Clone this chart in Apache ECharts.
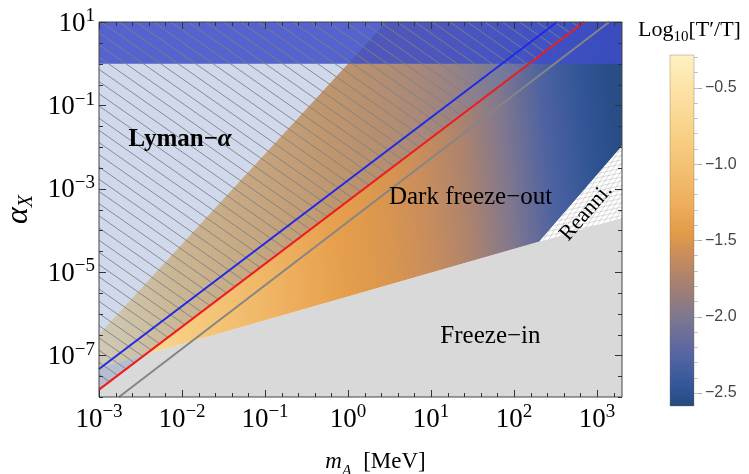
<!DOCTYPE html>
<html><head><meta charset="utf-8">
<script src="https://cdn.jsdelivr.net/npm/echarts@6/dist/echarts.min.js"></script>
<style>html,body{margin:0;padding:0;background:#fff}#c{width:749px;height:474px}</style>
</head><body><div id="c"></div>
<script>
// ---- axis ranges and ticks ----
const massRange = [1e-3, 2000];          // m_A [MeV]
const alphaRange = [1e-8, 10];           // alpha_X
const xTickExponents = [-3, -2, -1, 0, 1, 2, 3];
const yTickExponents = [1, -1, -3, -5, -7];
const xMinorStep = 0.2;                  // decades between minor ticks
const yMinorStep = 0.5;
const colorbarRange = [-2.585, -0.284];
const colorbarTicks = [-0.5, -1.0, -1.5, -2.0, -2.5];

// ---- region boundaries, points as [m_A, alpha_X] ----
const redLine = [[1e-3, 1.5e-8], [700, 10]];
const blueLine = [[1e-3, 4.7e-8], [330, 10]];
const grayLine = [[1.74e-3, 1e-8], [1400, 10]];
const freezeInEdge = [[1e-3, 5.0e-8], [2000, 2.0e-4]];
const freezeOutEdge = [[1e-3, 3.2e-7], [2.9, 10]];
const reanniEdge = [[200, 5.25e-5], [2000, 1.05e-2]];
const perturbativeAlpha = 1;

// ---- Log10[T'/T] sampled along the freeze-in edge, by m_A ----
const tempMass = [1e-3, 3.16e-3, 1e-2, 3.16e-2, 0.1, 0.316, 1, 3.16, 10, 31.6, 100, 316, 1000, 2000];
const tempLogRatio = [-0.4, -0.6, -0.85, -1.0, -1.15, -1.3, -1.42, -1.5, -1.6, -1.75, -2.0, -2.3, -2.48, -2.55];
const tempContourTilt = 5;   // degrees, iso-temperature lines lean this way

// ---- colour scale ----
const scaleValues = [-2.585, -2.45, -2.25, -2.0, -1.8, -1.6, -1.45, -1.25, -1.0, -0.75, -0.5, -0.284];
const scaleColors = ['#254a80', '#33579a', '#5565a3', '#7f778f', '#a37f72', '#c98d5c', '#e39b48', '#eeaf5e', '#f4c274', '#f9d48c', '#fde3a6', '#fff1c4'];

// ---- region labels: [m_A, alpha_X, text key, rotation deg] ----
const regionLabels = [
  [9.5e-3, 1.5e-2, 'lyman', 0],
  [30, 6.3e-4, 'freezeout', 0],
  [52, 2.9e-7, 'freezein', 0],
  [740, 2.7e-4, 'reanni', 49]
];

const SERIF = '"Liberation Serif","Times New Roman",serif';
const SANS = '"Liberation Sans",Arial,sans-serif';
const L = Math.log10;
const lg = p => [L(p[0]), L(p[1])];

function hexRgb(h) { return [1, 3, 5].map(i => parseInt(h.substr(i, 2), 16)); }
function colorAt(t) {
  if (t <= scaleValues[0]) return scaleColors[0];
  for (let i = 1; i < scaleValues.length; i++) {
    if (t <= scaleValues[i]) {
      const f = (t - scaleValues[i - 1]) / (scaleValues[i] - scaleValues[i - 1]);
      const a = hexRgb(scaleColors[i - 1]), b = hexRgb(scaleColors[i]);
      return 'rgb(' + a.map((x, k) => Math.round(x + (b[k] - x) * f)).join(',') + ')';
    }
  }
  return scaleColors[scaleColors.length - 1];
}

// clip an infinite line (base + t*dir) against a convex pixel polygon
function clipLine(base, dir, poly) {
  let area = 0;
  for (let i = 0; i < poly.length; i++) {
    const a = poly[i], b = poly[(i + 1) % poly.length];
    area += a[0] * b[1] - b[0] * a[1];
  }
  const o = area > 0 ? 1 : -1;
  let t0 = -1e5, t1 = 1e5;
  for (let i = 0; i < poly.length; i++) {
    const a = poly[i], b = poly[(i + 1) % poly.length];
    const ex = b[0] - a[0], ey = b[1] - a[1];
    const c0 = o * (ex * (base[1] - a[1]) - ey * (base[0] - a[0]));
    const c1 = o * (ex * dir[1] - ey * dir[0]);
    if (Math.abs(c1) < 1e-12) { if (c0 < 0) return null; continue; }
    const t = -c0 / c1;
    if (c1 > 0) t0 = Math.max(t0, t); else t1 = Math.min(t1, t);
  }
  return t1 > t0 ? [t0, t1] : null;
}
function hatch(poly, angleDeg, spacing, style) {
  const r = angleDeg * Math.PI / 180;
  const dir = [Math.cos(r), Math.sin(r)];
  const n = [-dir[1], dir[0]];
  let mn = Infinity, mx = -Infinity;
  poly.forEach(p => { const d = p[0] * n[0] + p[1] * n[1]; mn = Math.min(mn, d); mx = Math.max(mx, d); });
  const out = [];
  for (let d = Math.ceil(mn / spacing) * spacing; d <= mx; d += spacing) {
    const base = [n[0] * d, n[1] * d];
    const seg = clipLine(base, dir, poly);
    if (!seg) continue;
    out.push({ type: 'line', shape: {
      x1: base[0] + dir[0] * seg[0], y1: base[1] + dir[1] * seg[0],
      x2: base[0] + dir[0] * seg[1], y2: base[1] + dir[1] * seg[1] }, style: style });
  }
  return out;
}

// polygon vertex lists built from the boundaries above
const cornerTL = [massRange[0], alphaRange[1]];
const cornerTR = [massRange[1], alphaRange[1]];
const cornerBL = [massRange[0], alphaRange[0]];
const cornerBR = [massRange[1], alphaRange[0]];
const freezeOutPoly = [freezeOutEdge[0], freezeOutEdge[1], cornerTR, reanniEdge[1], reanniEdge[0], freezeInEdge[0]];
const freezeInPoly = [cornerBL, cornerBR, freezeInEdge[1], freezeInEdge[0]];
const reanniPoly = [reanniEdge[0], reanniEdge[1], freezeInEdge[1]];
const lymanPoly = [cornerTL, redLine[1], redLine[0]];
const bandPoly = [[massRange[0], perturbativeAlpha], [massRange[1], perturbativeAlpha], cornerTR, cornerTL];

// alpha on the freeze-in edge (straight in log-log)
function freezeInAlpha(m) {
  const a = lg(freezeInEdge[0]), b = lg(freezeInEdge[1]);
  return Math.pow(10, a[1] + (L(m) - a[0]) * (b[1] - a[1]) / (b[0] - a[0]));
}

function polySeries(pts, styleFn, z) {
  return {
    type: 'custom', xAxisIndex: 0, yAxisIndex: 0, z: z || 2, silent: true,
    data: [lg(pts[0])],
    renderItem: function (params, api) {
      const px = pts.map(p => api.coord(lg(p)));
      return styleFn(px, api);
    }
  };
}
function lineSeries(pts, color, z) {
  return polySeries(pts, px => ({ type: 'polyline', shape: { points: px },
    style: { stroke: color, lineWidth: 2, fill: null } }), z);
}

function range(a, b, step) { const out = []; for (let v = a; v <= b + 1e-9; v += step) out.push(+v.toFixed(4)); return out; }
const xr = { min: L(massRange[0]), max: L(massRange[1]) };
const yr = { min: L(alphaRange[0]), max: L(alphaRange[1]) };
const xMinor = range(xr.min, xr.max, xMinorStep);
const yMinor = range(yr.min, yr.max, yMinorStep);
const cbMinor = range(-2.5, -0.3, 0.1);

const series = [
  // dark freeze-out region coloured by Log10[T'/T]
  polySeries(freezeOutPoly, function (px, api) {
    const r = tempContourTilt * Math.PI / 180;
    const d = [Math.cos(r), -Math.sin(r)];
    const proj = tempMass.map(m => {
      const p = api.coord([L(m), L(freezeInAlpha(m))]);
      return p[0] * d[0] + p[1] * d[1];
    });
    const p0 = proj[0], p1 = proj[proj.length - 1];
    const stops = proj.map((s, i) => ({ offset: (s - p0) / (p1 - p0), color: colorAt(tempLogRatio[i]) }));
    return { type: 'polygon', shape: { points: px },
      style: { fill: new echarts.graphic.LinearGradient(d[0] * p0, d[1] * p0, d[0] * p1, d[1] * p1, stops, true), stroke: null } };
  }, 1),
  // freeze-in
  polySeries(freezeInPoly, px => ({ type: 'polygon', shape: { points: px }, style: { fill: '#d9d9d9' } }), 2),
  // reannihilation
  polySeries(reanniPoly, px => ({ type: 'group', children: [
    { type: 'polygon', shape: { points: px }, style: { fill: '#ffffff' } }
  ].concat(hatch(px, -12, 4.2, { stroke: 'rgba(150,150,150,0.55)', lineWidth: 0.6 }))
   .concat(hatch(px, -58, 4.2, { stroke: 'rgba(150,150,150,0.55)', lineWidth: 0.6 })) }), 3),
  // Lyman-alpha tint
  polySeries(lymanPoly, px => ({ type: 'polygon', shape: { points: px }, style: { fill: 'rgba(100,130,190,0.3)' } }), 4),
  // alpha_X > 1 band
  polySeries(bandPoly, px => ({ type: 'polygon', shape: { points: px }, style: { fill: 'rgba(62,78,200,0.85)' } }), 5),
  // Lyman-alpha hatching
  polySeries(lymanPoly, px => ({ type: 'group', children:
    hatch(px, 35, 10, { stroke: '#808080', lineWidth: 0.9 }) }), 6),
  lineSeries(grayLine, '#858585', 7),
  lineSeries(redLine, '#ee1c1c', 8),
  lineSeries(blueLine, '#1f2ae6', 9),
  // region labels
  {
    type: 'custom', xAxisIndex: 0, yAxisIndex: 0, z: 10, silent: true,
    data: regionLabels.map(r => [L(r[0]), L(r[1]), r[3]]),
    renderItem: function (params, api) {
      const p = api.coord([api.value(0), api.value(1)]);
      const key = regionLabels[params.dataIndex][2];
      const texts = {
        lyman: '{b|Lyman\u2212}{bi|\u03b1}',
        freezeout: '{n|Dark freeze\u2212out}',
        freezein: '{n|Freeze\u2212in}',
        reanni: '{r|Reanni.}'
      };
      return { type: 'text', x: p[0], y: p[1], rotation: api.value(2) * Math.PI / 180,
        style: { text: texts[key], align: 'center', verticalAlign: 'middle',
          rich: {
            b: { fontFamily: SERIF, fontSize: 25, fontWeight: 'bold', fill: '#000' },
            bi: { fontFamily: SERIF, fontSize: 25, fontWeight: 'bold', fontStyle: 'italic', fill: '#000' },
            n: { fontFamily: SERIF, fontSize: 25, fill: '#000' },
            r: { fontFamily: SERIF, fontSize: 22, fill: '#000' }
          } } };
    }
  },
  // frame ticks on all four sides, pointing inward
  {
    type: 'custom', xAxisIndex: 0, yAxisIndex: 0, z: 40, silent: true,
    data: [[xr.min, yr.min]],
    renderItem: function (params, api) {
      const bl = api.coord([xr.min, yr.min]), tr = api.coord([xr.max, yr.max]);
      const st = { stroke: '#333', lineWidth: 1 };
      const out = [];
      const addX = (v, len) => {
        const x = Math.round(api.coord([v, yr.min])[0]) + 0.5;
        out.push({ type: 'line', shape: { x1: x, y1: bl[1], x2: x, y2: bl[1] - len }, style: st });
        out.push({ type: 'line', shape: { x1: x, y1: tr[1], x2: x, y2: tr[1] + len }, style: st });
      };
      const addY = (v, len) => {
        const y = Math.round(api.coord([xr.min, v])[1]) + 0.5;
        out.push({ type: 'line', shape: { x1: bl[0], y1: y, x2: bl[0] + len, y2: y }, style: st });
        out.push({ type: 'line', shape: { x1: tr[0], y1: y, x2: tr[0] - len, y2: y }, style: st });
      };
      xMinor.forEach(v => { if (xTickExponents.indexOf(Math.round(v)) < 0 || Math.abs(v - Math.round(v)) > 1e-6) addX(v, 4); });
      xTickExponents.forEach(v => addX(v, 7));
      yMinor.forEach(v => { if (yTickExponents.indexOf(Math.round(v)) < 0 || Math.abs(v - Math.round(v)) > 1e-6) addY(v, 4); });
      yTickExponents.forEach(v => addY(v, 7));
      return { type: 'group', children: out };
    }
  },
  // colour bar
  {
    type: 'custom', xAxisIndex: 1, yAxisIndex: 1, z: 2, silent: true,
    data: [[0, colorbarRange[0]]],
    renderItem: function (params, api) {
      const tl = api.coord([0, colorbarRange[1]]);
      const br = api.coord([1, colorbarRange[0]]);
      const stops = scaleValues.map((v, i) => ({ offset: (api.coord([0, v])[1] - tl[1]) / (br[1] - tl[1]), color: scaleColors[i] }));
      return { type: 'rect', shape: { x: tl[0], y: tl[1], width: br[0] - tl[0], height: br[1] - tl[1] },
        style: { fill: new echarts.graphic.LinearGradient(0, tl[1], 0, br[1], stops, true),
          stroke: 'rgba(120,100,70,0.35)', lineWidth: 1 } };
    }
  }
];

function expText(e) { return e < 0 ? '\u2212' + (-e) : String(e); }
const powRich = {
  b: { fontFamily: SERIF, fontSize: 27, color: '#000', lineHeight: 30, verticalAlign: 'bottom' },
  s: { fontFamily: SERIF, fontSize: 19, color: '#000', lineHeight: 12, verticalAlign: 'top' }
};
const powFmt = v => '{b|10}{s|' + expText(Math.round(v)) + '}';

const option = {
  backgroundColor: '#fff',
  animation: false,
  title: {
    left: 633, top: 14,
    text: '{a|Log}{sub|10}{a|[T\u2032/T]}',
    textStyle: { fontWeight: 'normal', rich: {
      a: { fontFamily: SERIF, fontSize: 22, fontWeight: 'normal', color: '#000', lineHeight: 26, verticalAlign: 'top' },
      sub: { fontFamily: SERIF, fontSize: 15, fontWeight: 'normal', color: '#000', lineHeight: 18, verticalAlign: 'bottom' } } }
  },
  grid: [
    { left: 99, top: 22, width: 523, height: 375, containLabel: false, outerBoundsMode: 'none',
      show: true, borderColor: '#444', borderWidth: 1, backgroundColor: 'transparent', z: 20 },
    { left: 670, top: 55, width: 24, height: 351, containLabel: false, outerBoundsMode: 'none' }
  ],
  xAxis: [
    Object.assign({
      gridIndex: 0, type: 'value', position: 'bottom',
      axisLine: { show: false, onZero: false }, splitLine: { show: false }, axisTick: { show: false },
      axisLabel: { show: true, customValues: xTickExponents, formatter: powFmt, rich: powRich, margin: 6 },
      name: '{i|m}{sub|A}{n|\u2002[MeV]}', nameLocation: 'middle', nameGap: 53,
      nameTextStyle: { padding: [0, 0, 0, 30], rich: {
        i: { fontFamily: SERIF, fontSize: 23, fontStyle: 'italic', color: '#000', lineHeight: 30, verticalAlign: 'top' },
        sub: { fontFamily: SERIF, fontSize: 16, fontStyle: 'italic', color: '#000', lineHeight: 24, verticalAlign: 'bottom' },
        n: { fontFamily: SERIF, fontSize: 23, color: '#000', lineHeight: 30, verticalAlign: 'top' } } }
    }, xr),
    { gridIndex: 1, type: 'value', min: 0, max: 1, show: false }
  ],
  yAxis: [
    Object.assign({
      gridIndex: 0, type: 'value', position: 'left',
      axisLine: { show: false, onZero: false }, splitLine: { show: false }, axisTick: { show: false },
      axisLabel: { show: true, customValues: yTickExponents, formatter: powFmt, rich: powRich, margin: 4 },
      name: '{i|\u03b1}{sub|X}', nameLocation: 'middle', nameGap: 60, nameRotate: 90,
      nameTextStyle: { rich: {
        i: { fontFamily: SERIF, fontSize: 32, fontStyle: 'italic', color: '#000', lineHeight: 34, verticalAlign: 'top' },
        sub: { fontFamily: SERIF, fontSize: 20, fontStyle: 'italic', color: '#000', lineHeight: 26, verticalAlign: 'bottom' } } }
    }, yr),
    { gridIndex: 1, type: 'value', position: 'right', min: colorbarRange[0], max: colorbarRange[1],
      axisLine: { show: false, onZero: false }, splitLine: { show: false },
      axisTick: { show: true, length: 8, customValues: colorbarTicks, lineStyle: { color: '#aaa' } },
      axisLabel: { show: true, customValues: colorbarTicks, margin: 11, fontFamily: SANS, fontSize: 16, color: '#444',
        formatter: v => (v < 0 ? '\u2212' : '') + Math.abs(v).toFixed(1) } },
    { gridIndex: 1, type: 'value', position: 'right', min: colorbarRange[0], max: colorbarRange[1],
      axisLine: { show: false, onZero: false }, splitLine: { show: false }, axisLabel: { show: false },
      axisTick: { show: true, length: 4, customValues: cbMinor, lineStyle: { color: '#c4c4c4' } } }
  ],
  series: series
};
const chart = echarts.init(document.getElementById('c'));
chart.setOption(option);
</script></body></html>
